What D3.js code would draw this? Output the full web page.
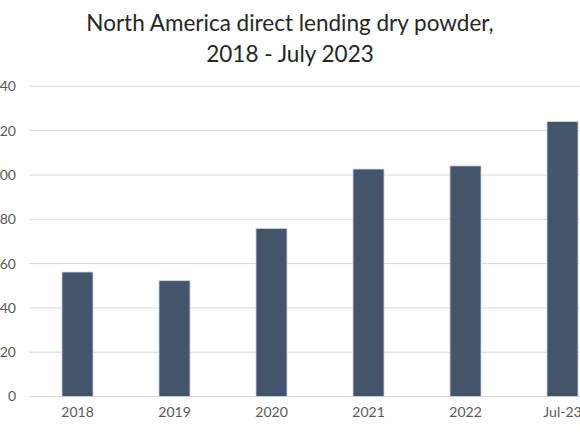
<!DOCTYPE html>
<html><head><meta charset="utf-8">
<script src="https://cdn.jsdelivr.net/npm/d3@7"></script>
<style>body{margin:0;background:#fff;overflow:hidden}svg{display:block}</style>
</head><body><svg id="c" width="580" height="435"></svg>
<script>
const categories = ["2018","2019","2020","2021","2022","Jul-23"];
const values = [56.2, 52.3, 75.9, 102.7, 104.1, 124.1];
const yTicks = [0,20,40,60,80,100,120,140];
const yTickLabels = ["0","20","40","60","80","100","120","140"];
const titleLines = ["North America direct lending dry powder,","2018 - July 2023"];

const svg = d3.select("#c");
const font = "Lato, 'Open Sans', sans-serif";
const x = d3.scaleBand().domain(categories).range([29, 611]).paddingInner(0.68).paddingOuter(0.34);
const y = d3.scaleLinear().domain([0,140]).range([396.5, 86.4]);

// gridlines
svg.append("g").selectAll("line").data(yTicks).join("line")
  .attr("x1", 29).attr("x2", 580)
  .attr("y1", d=>y(d)).attr("y2", d=>y(d))
  .attr("stroke", "#d9d9d9").attr("stroke-width", 1);

// y axis labels
const yAxis = d3.axisLeft(y).tickValues(yTicks).tickFormat((d,i)=>yTickLabels[i]).tickSize(0).tickPadding(0);
const ga = svg.append("g").attr("transform","translate(16,0)").call(yAxis);
ga.select(".domain").remove();
ga.selectAll("text").attr("font-family", font).attr("font-size", 14).attr("fill", "#595959");

// x axis labels
const xAxis = d3.axisBottom(x).tickSize(0).tickPadding(0);
const gx = svg.append("g").attr("transform","translate(0,407)").call(xAxis);
gx.select(".domain").remove();
gx.selectAll("text").attr("font-family", font).attr("font-size", 14).attr("fill", "#595959");

// bars
svg.append("g").selectAll("rect").data(values).join("rect")
  .attr("x", (d,i)=>x(categories[i]))
  .attr("width", x.bandwidth())
  .attr("y", d=>y(d))
  .attr("height", d=>y(0)-y(d))
  .attr("fill", "#44546a")
  .attr("stroke", "#d6dae0").attr("stroke-width", 0.8);

// title
svg.append("g").selectAll("text").data(titleLines).join("text")
  .attr("x", 290).attr("y", (d,i)=>31 + i*31)
  .attr("text-anchor","middle")
  .attr("font-family", font).attr("font-weight", 400).attr("font-size", 22.5).attr("fill", "#262626")
  .text(d=>d);
</script></body></html>
